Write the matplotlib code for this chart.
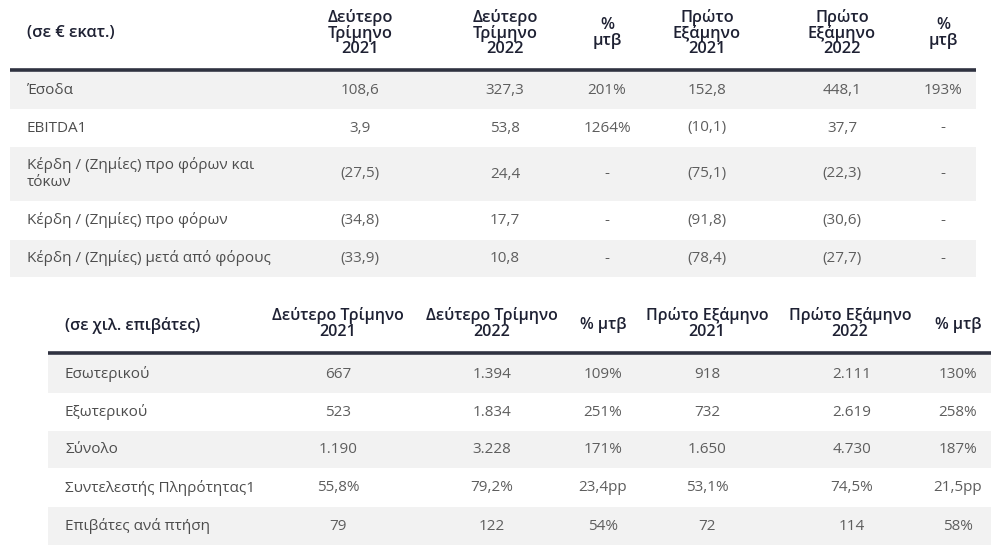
import matplotlib
matplotlib.use("Agg")
import matplotlib.pyplot as plt
from matplotlib.patches import Rectangle

plt.rcParams['font.family'] = ['Open Sans', 'Noto Sans', 'DejaVu Sans']

# ---------------- data: table 1 ----------------
t1_title = "(σε € εκατ.)"
t1_headers = [["Δεύτερο", "Τρίμηνο", "2021"],
              ["Δεύτερο", "Τρίμηνο", "2022"],
              ["%", "μτβ"],
              ["Πρώτο", "Εξάμηνο", "2021"],
              ["Πρώτο", "Εξάμηνο", "2022"],
              ["%", "μτβ"]]
t1_labels = [["Έσοδα"],
             ["EBITDA1"],
             ["Κέρδη / (Ζημίες) προ φόρων και", "τόκων"],
             ["Κέρδη / (Ζημίες) προ φόρων"],
             ["Κέρδη / (Ζημίες) μετά από φόρους"]]
t1_q2_2021 = ["108,6", "3,9", "(27,5)", "(34,8)", "(33,9)"]
t1_q2_2022 = ["327,3", "53,8", "24,4", "17,7", "10,8"]
t1_q2_yoy = ["201%", "1264%", "-", "-", "-"]
t1_h1_2021 = ["152,8", "(10,1)", "(75,1)", "(91,8)", "(78,4)"]
t1_h1_2022 = ["448,1", "37,7", "(22,3)", "(30,6)", "(27,7)"]
t1_h1_yoy = ["193%", "-", "-", "-", "-"]

# ---------------- data: table 2 ----------------
t2_title = "(σε χιλ. επιβάτες)"
t2_headers = [["Δεύτερο Τρίμηνο", "2021"],
              ["Δεύτερο Τρίμηνο", "2022"],
              ["% μτβ"],
              ["Πρώτο Εξάμηνο", "2021"],
              ["Πρώτο Εξάμηνο", "2022"],
              ["% μτβ"]]
t2_labels = ["Εσωτερικού", "Εξωτερικού", "Σύνολο",
             "Συντελεστής Πληρότητας1", "Επιβάτες ανά πτήση"]
t2_q2_2021 = ["667", "523", "1.190", "55,8%", "79"]
t2_q2_2022 = ["1.394", "1.834", "3.228", "79,2%", "122"]
t2_q2_yoy = ["109%", "251%", "171%", "23,4pp", "54%"]
t2_h1_2021 = ["918", "732", "1.650", "53,1%", "72"]
t2_h1_2022 = ["2.111", "2.619", "4.730", "74,5%", "114"]
t2_h1_yoy = ["130%", "258%", "187%", "21,5pp", "58%"]

# ---------------- styling ----------------
HEAD = "#1e2133"
LABEL = "#4d4d4d"
VAL = "#5e5e5e"
SHADE = "#f2f2f2"
LINE = "#2f3240"

fig = plt.figure(figsize=(10, 5.5), dpi=100)
ax = fig.add_axes([0, 0, 1, 1])
ax.set_xlim(0, 1000)
ax.set_ylim(550, 0)
ax.axis("off")

def draw_table(x0, x1, line_y, title, title_xy, headers, header_x, header_ys,
               rows_bounds, labels, label_x, cols, col_x, hfs, bfs):
    ax.text(title_xy[0], title_xy[1], title, ha="left", va="center",
            fontsize=hfs, fontweight="semibold", color=HEAD)
    for h, hx in zip(headers, header_x):
        ys = header_ys[len(h)]
        for line, yy in zip(h, ys):
            ax.text(hx, yy, line, ha="center", va="center",
                    fontsize=hfs, fontweight="semibold", color=HEAD)
    for i, (ya, yb) in enumerate(rows_bounds):
        if i % 2 == 0:
            ax.add_patch(Rectangle((x0, ya), x1 - x0, yb - ya,
                                   facecolor=SHADE, edgecolor="none", zorder=0))
    ax.plot([x0, x1], [line_y, line_y], color=LINE, lw=2.6,
            solid_capstyle="butt", zorder=2)
    for i, (ya, yb) in enumerate(rows_bounds):
        yc = (ya + yb) / 2
        lab = labels[i]
        if isinstance(lab, str):
            lab = [lab]
        if len(lab) == 1:
            ax.text(label_x, yc, lab[0], ha="left", va="center",
                    fontsize=bfs, color=LABEL)
        else:
            ax.text(label_x, yc - 9, lab[0], ha="left", va="center",
                    fontsize=bfs, color=LABEL)
            ax.text(label_x, yc + 8, lab[1], ha="left", va="center",
                    fontsize=bfs, color=LABEL)
        for col, cx in zip(cols, col_x):
            ax.text(cx, yc, col[i], ha="center", va="center",
                    fontsize=bfs, color=VAL)

draw_table(
    x0=10, x1=976, line_y=70,
    title=t1_title, title_xy=(27, 33),
    headers=t1_headers,
    header_x=[360, 505, 607, 707, 842, 943],
    header_ys={3: [17, 33, 49], 2: [25, 41]},
    rows_bounds=[(72, 109), (109, 147), (147, 201), (201, 240), (240, 277)],
    labels=t1_labels, label_x=27,
    cols=[t1_q2_2021, t1_q2_2022, t1_q2_yoy, t1_h1_2021, t1_h1_2022, t1_h1_yoy],
    col_x=[360, 505, 607, 707, 842, 943],
    hfs=11.8, bfs=11,
)

draw_table(
    x0=48, x1=991, line_y=353,
    title=t2_title, title_xy=(65, 326),
    headers=t2_headers,
    header_x=[338, 492, 603, 707, 850, 958],
    header_ys={2: [316, 332], 1: [325]},
    rows_bounds=[(355, 393), (393, 431), (431, 468), (468, 507), (507, 545)],
    labels=t2_labels, label_x=65,
    cols=[t2_q2_2021, t2_q2_2022, t2_q2_yoy, t2_h1_2021, t2_h1_2022, t2_h1_yoy],
    col_x=[338, 492, 603, 707, 852, 958],
    hfs=11.5, bfs=11,
)

fig.savefig("out.png", dpi=100, facecolor="white")
